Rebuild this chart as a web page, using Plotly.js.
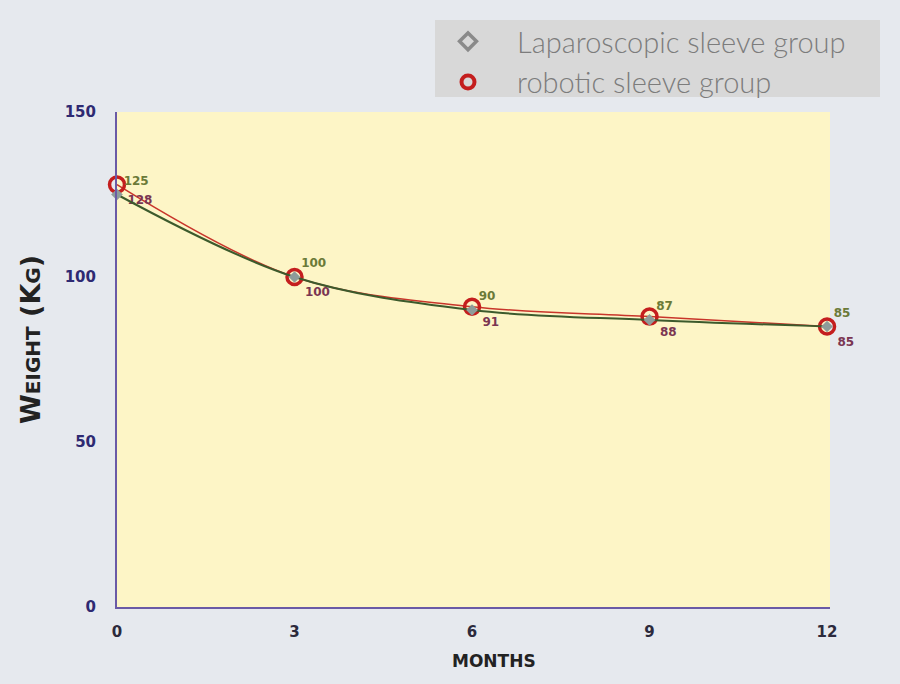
<!DOCTYPE html>
<html><head><meta charset="utf-8">
<script src="https://cdn.plot.ly/plotly-3.0.1.min.js"></script>
<style>html,body{margin:0;padding:0;background:#e6e9ee;}</style>
</head><body>
<div id="chart" style="width:900px;height:684px;"></div>
<script>
const months = [0, 3, 6, 9, 12];
const lapValues = [125, 100, 90, 87, 85];
const robValues = [128, 100, 91, 88, 85];
const lapName = "Laparoscopic sleeve group";
const robName = "robotic sleeve group";
const yTicks = [0, 50, 100, 150];
const xTicks = [0, 3, 6, 9, 12];
const xTitle = 'MONTHS';
const yTitle = 'W<span style="font-size:20px">EIGHT</span> (K<span style="font-size:20px">G</span>)';

const traces = [
  {x: months, y: robValues, mode: 'lines+markers+text', showlegend: false,
   line: {color: '#c8352a', width: 1.5, shape: 'spline'},
   marker: {symbol: 'circle-open', size: 15, color: '#c41e1e', line: {width: 3.5, color: '#c41e1e'}},
   text: robValues.map(String), textposition: 'bottom right',
   textfont: {family: 'DejaVu Sans', size: 12, color: '#7a3552', weight: 'bold'}, cliponaxis: false},
  {x: months, y: lapValues, mode: 'lines+markers+text', showlegend: false,
   line: {color: '#3c5a2c', width: 2, shape: 'spline'},
   marker: {symbol: 'diamond', size: 9, color: '#8e9c9a'},
   text: lapValues.map(String), textposition: 'top right',
   textfont: {family: 'DejaVu Sans', size: 12, color: '#6b7a38', weight: 'bold'}, cliponaxis: false},
  {x: [null], y: [null], name: lapName, mode: 'markers',
   marker: {symbol: 'diamond-open', size: 13, color: '#8a8a8a', line: {width: 3.5, color: '#8a8a8a'}}},
  {x: [null], y: [null], name: robName, mode: 'markers',
   marker: {symbol: 'circle-open', size: 13, color: '#c41e1e', line: {width: 4, color: '#c41e1e'}}}
];

const layout = {
  width: 900, height: 684,
  paper_bgcolor: '#e6e9ee', plot_bgcolor: '#fdf5c6',
  margin: {l: 117, r: 70, t: 112, b: 77},
  xaxis: {range: [0, 12.05], tickvals: xTicks, ticktext: xTicks.map(String),
    showgrid: false, zeroline: false, showline: true, linecolor: '#6a5aa6', linewidth: 2,
    ticks: '', ticklabelstandoff: 10,
    tickfont: {family: 'DejaVu Sans', size: 15, color: '#2c2a3c', weight: 'bold'}},
  yaxis: {range: [0, 150], tickvals: yTicks, ticktext: yTicks.map(String),
    showgrid: false, zeroline: false, showline: true, linecolor: '#6a5aa6', linewidth: 2,
    ticks: '', ticklabelstandoff: 16,
    tickfont: {family: 'DejaVu Sans', size: 15, color: '#2e2a72', weight: 'bold'}},
  annotations: [
    {text: xTitle, xref: 'paper', yref: 'paper', x: (494-117)/713, y: (607-661)/495,
     xanchor: 'center', yanchor: 'middle', showarrow: false,
     font: {family: 'DejaVu Sans', size: 17, color: '#222222', weight: 'bold'}},
    {text: yTitle, xref: 'paper', yref: 'paper', x: (30-117)/713, y: (607-340)/495, textangle: -90,
     xanchor: 'center', yanchor: 'middle', showarrow: false,
     font: {family: 'DejaVu Sans', size: 27, color: '#222222', weight: 'bold'}}
  ],
  shapes: [{type: 'rect', xref: 'paper', yref: 'paper', x0: (435-117)/713, x1: (880-117)/713,
    y0: (607-97)/495, y1: (607-20)/495, fillcolor: '#d8d8d8', line: {width: 0}, layer: 'below'}],
  legend: {x: (419-117)/713, y: (607-16)/495, xanchor: 'left', yanchor: 'top',
    bgcolor: 'rgba(0,0,0,0)', itemwidth: 88, tracegroupgap: 0,
    font: {family: 'Lato', size: 29, color: '#7c7c7c', weight: 300}},
  showlegend: true
};
Plotly.newPlot('chart', traces, layout, {displayModeBar: false});
</script>
</body></html>
